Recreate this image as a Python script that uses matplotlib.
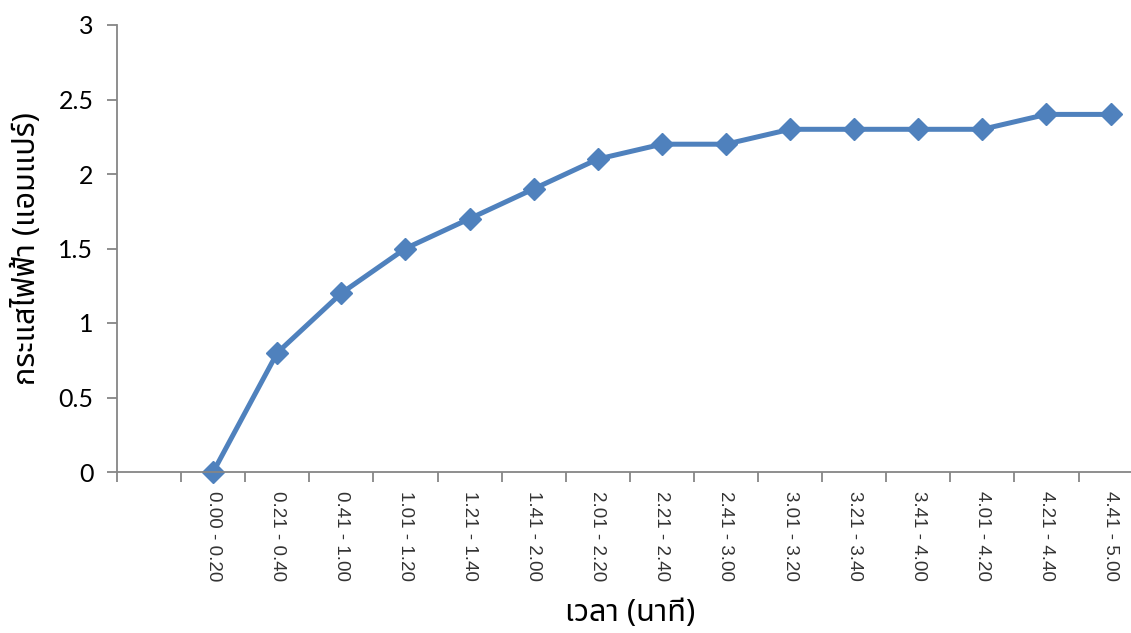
import matplotlib.pyplot as plt

# categories (first one is an empty slot, as in the original sheet)
categories = ["", "0.00 - 0.20", "0.21 - 0.40", "0.41 - 1.00", "1.01 - 1.20", "1.21 - 1.40",
              "1.41 - 2.00", "2.01 - 2.20", "2.21 - 2.40", "2.41 - 3.00", "3.01 - 3.20",
              "3.21 - 3.40", "3.41 - 4.00", "4.01 - 4.20", "4.21 - 4.40", "4.41 - 5.00"]
current = [0, 0.8, 1.2, 1.5, 1.7, 1.9, 2.1, 2.2, 2.2, 2.3, 2.3, 2.3, 2.3, 2.4, 2.4]
yticks = [0, 0.5, 1, 1.5, 2, 2.5, 3]

thai = ['Noto Sans Thai', 'Noto Sans Thai Looped', 'Loma', 'Garuda', 'TlwgTypo', 'DejaVu Sans']

fig = plt.figure(figsize=(11.31, 6.33), dpi=100)
ax = fig.add_axes([117/1131, 161/633, 16*64.1/1131, 447/633])

x = [i + 1.5 for i in range(len(current))]
ax.plot(x, current, '-D', color='#4F81BD', linewidth=3.6, markersize=11, clip_on=False)

ax.set_xlim(0, 16)
ax.set_ylim(0, 3)
ax.set_xticks(range(0, 17))
ax.set_xticklabels([])
ax.set_xticks([i + 0.5 for i in range(len(categories))], minor=True)
ax.set_xticklabels(categories, minor=True, rotation=270, fontsize=13.5,
                   family='Liberation Sans', color='#333333', va='top')
ax.tick_params(axis='x', which='major', length=7, color='#868686', width=1.3)
ax.tick_params(axis='x', which='minor', length=0, pad=14)
ax.set_yticks(yticks)
ax.set_yticklabels([f"{v:g}" for v in yticks], fontsize=18, family='Lato')
ax.tick_params(axis='y', length=7, color='#868686', width=1.3, pad=10)

for s in ['top', 'right']:
    ax.spines[s].set_visible(False)
for s in ['left', 'bottom']:
    ax.spines[s].set_color('#868686')
    ax.spines[s].set_linewidth(1.3)

ax.set_ylabel("กระแสไฟฟ้า (แอมแปร์)", fontsize=22, family=thai, labelpad=12)
ax.set_xlabel("เวลา (นาที)", fontsize=22, family=thai, labelpad=12)

fig.savefig("out.png", dpi=100)
